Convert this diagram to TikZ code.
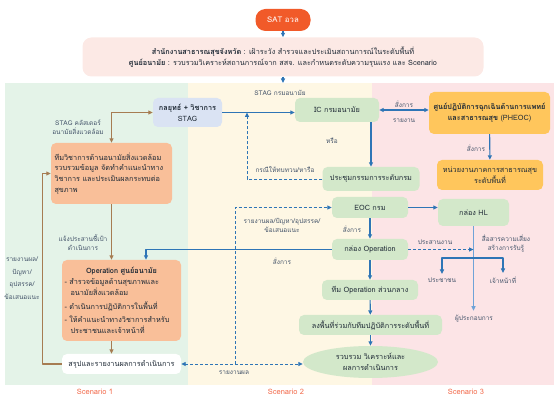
\documentclass[tikz,border=0pt]{standalone}
\usepackage{fontspec}
\setmainfont[Script=Thai]{Loma}
\usetikzlibrary{arrows.meta,shapes.geometric}

\definecolor{satred}{HTML}{F15A29}
\definecolor{toppink}{HTML}{FCE9E5}
\definecolor{colgreen}{HTML}{E4F3E8}
\definecolor{colyellow}{HTML}{FEF7E4}
\definecolor{colpink}{HTML}{FCE4E6}
\definecolor{boxgreen}{HTML}{D3E8CA}
\definecolor{stagblue}{HTML}{DAE3F3}
\definecolor{envorange}{HTML}{F9BF99}
\definecolor{pheocyel}{HTML}{FFC65C}
\definecolor{arrowblue}{HTML}{2E75B6}
\definecolor{hlblue}{HTML}{6FA3D8}
\definecolor{brownline}{HTML}{A67C52}
\definecolor{labeltxt}{HTML}{44546A}
\definecolor{txtdark}{HTML}{1F2A36}
\definecolor{scenred}{HTML}{F26A4B}

\begin{document}
\begin{tikzpicture}[x=1pt, y=-1pt, >={Triangle[length=4.5pt, width=4pt]}, line join=round,
	every node/.style={font=\fontsize{7.3}{10.8}\selectfont, text=txtdark},
	card/.style={rounded corners=5pt, inner sep=1pt, align=center},
	greencard/.style={card, fill=boxgreen},
	edgelabel/.style={font=\fontsize{6.5}{9}\selectfont, text=labeltxt, align=center, inner sep=0.5pt},
	scenlabel/.style={font=\fontsize{7.5}{9}\selectfont, text=scenred, inner sep=0.5pt},
	bluearrow/.style={->, draw=arrowblue, line width=1.1pt},
	bluedash/.style={draw=arrowblue, line width=0.9pt, dash pattern=on 3pt off 2pt},
	brownarrow/.style={->, draw=brownline, line width=1.1pt}]

	\useasboundingbox (0,0) rectangle (560,403);

	% ================= header =================
	\node[card, fill=satred, text=white, rounded corners=10pt, minimum width=55pt, minimum height=22pt, font=\fontsize{7.8}{10}\selectfont] (sat) at (283,20) {SAT อวล};
	\node[card, fill=toppink, rounded corners=9pt, minimum width=401pt, minimum height=39pt] (prov) at (283,57)
	{{\bfseries สำนักงานสาธารณสุขจังหวัด} : เฝ้าระวัง สำรวจและประเมินสถานการณ์ในระดับพื้นที่\\[1pt]
		{\bfseries ศูนย์อนามัย} : รวบรวมวิเคราะห์สถานการณ์จาก สสจ. และกำหนดระดับความรุนแรง และ Scenario};
	\coordinate (colstop) at (283,83);
	\draw[bluearrow] (sat) -- (prov);
	\draw[bluearrow] (prov.south) -- (colstop);

	% ================= three scenario columns =================
	\fill[colgreen] (5,83) rectangle (188,385);
	\fill[colyellow] (188,83) rectangle (372,385);
	\fill[colpink] (372,83) rectangle (554,385);
	\node[scenlabel] (scen1) at (95,392) {Scenario 1};
	\node[scenlabel] (scen2) at (286,392) {Scenario 2};
	\node[scenlabel] (scen3) at (466,392) {Scenario 3};

	% ================= scenario 1 =================
	\node[edgelabel] (stagcl) at (78,127) {STAG คลัสเตอร์\\อนามัยสิ่งแวดล้อม};
	\node[card, fill=stagblue, minimum width=69pt, minimum height=29pt] (stag) at (187.5,112.5) {{\bfseries กลยุทธ์ + วิชาการ}\\STAG};
	\node[card, fill=envorange, minimum width=121pt, minimum height=61pt, text width=114pt, align=left] (envteam) at (111.5,173.5)
	{ทีมวิชาการด้านอนามัยสิ่งแวดล้อม\\รวบรวมข้อมูล จัดทำคำแนะนำทาง\\วิชาการ และประเมินผลกระทบต่อ\\สุขภาพ};
	\node[edgelabel] (notify) at (83,243) {แจ้งประสานชี้เป้า\\ดำเนินการ};
	\node[card, fill=envorange, minimum width=119pt, minimum height=81pt, text width=114pt, align=left] (ophc) at (121.5,300.5)
	{{\centering\bfseries Operation ศูนย์อนามัย\par}
		- สำรวจข้อมูลด้านสุขภาพและ\\
		\hspace*{6pt}อนามัยสิ่งแวดล้อม\\[3pt]
		- ดำเนินการปฏิบัติการในพื้นที่\\[3pt]
		- ให้คำแนะนำทางวิชาการสำหรับ\\
		\hspace*{6pt}ประชาชนและเจ้าหน้าที่};
	\node[card, fill=white, minimum width=119pt, minimum height=20pt] (summ) at (121.5,364) {สรุปและรายงานผลการดำเนินการ};
	\node[edgelabel, font=\fontsize{6.5}{12.5}\selectfont] (fbtext) at (22,278) {รายงานผล/\\ปัญหา/\\อุปสรรค/\\ข้อเสนอแนะ};

	\draw[brownarrow, <->] (envteam.north) |- (stag.west);
	\draw[brownarrow] (envteam.south) -- (envteam.south |- ophc.north);
	\draw[brownarrow] (ophc.south -| envteam.south) -- (summ.north -| envteam.south);
	\draw[brownarrow] (summ.west) -- ++(-19,0) |- (envteam.west);

	% ================= scenario 2 =================
	\node[edgelabel] (stagdoh) at (280,93) {STAG กรมอนามัย};
	\node[greencard, minimum width=84pt, minimum height=24pt] (ic) at (337,110) {IC กรมอนามัย};
	\node[greencard, minimum width=97pt, minimum height=24pt] (meet) at (371,179) {ประชุมกรรมการระดับกรม};
	\node[edgelabel] (orlbl) at (332,141) {หรือ};
	\node[edgelabel] (revlbl) at (285,170) {กรณีให้ทบทวน/หารือ};
	\node[greencard, minimum width=76pt, minimum height=21pt] (eoc) at (370,207.5) {EOC กรม};
	\node[greencard, minimum width=76pt, minimum height=21pt] (opbox) at (370,249.5) {กล่อง Operation};
	\node[greencard, minimum width=96pt, minimum height=20pt] (cteam) at (370,290) {ทีม Operation ส่วนกลาง};
	\node[greencard, minimum width=143pt, minimum height=20pt] (field) at (370.5,325) {ลงพื้นที่ร่วมกับทีมปฏิบัติการระดับพื้นที่};
	\node[ellipse, fill=boxgreen, inner sep=0pt, minimum width=135pt, minimum height=32pt, align=center] (collect) at (370.5,362)
	{รวบรวม วิเคราะห์และ\\ผลการดำเนินการ};
	\node[edgelabel] (replbl) at (282,225) {รายงานผล/ปัญหา/อุปสรรค/\\ข้อเสนอแนะ};
	\node[edgelabel] (cmd1) at (352,229) {สั่งการ};
	\node[edgelabel] (cmd2) at (282,261) {สั่งการ};
	\node[edgelabel] (replbl2) at (234,373) {รายงานผล};
	\coordinate (revtip) at (247,112.5);
	\coordinate (repjoin) at (235,364);

	\draw[bluearrow] (stag.east) -- (stag.east -| ic.west);
	\draw[bluedash, ->] (meet.west) -| (revtip);
	\draw[bluearrow] (meet.north |- ic.south) -- (meet.north);
	\draw[bluearrow] (eoc) -- (opbox);
	\draw[bluearrow] (opbox) -- (cteam);
	\draw[bluearrow] (cteam) -- (field);
	\draw[bluearrow] (field) -- (collect);
	\draw[bluearrow] (opbox.west) -| ([xshift=24.5pt]ophc.north);
	\draw[bluedash, <->] (summ.east) -- (summ.east -| collect.west);
	\draw[bluedash, ->] (repjoin) |- (eoc.west);

	% ================= scenario 3 =================
	\node[card, fill=pheocyel, minimum width=121pt, minimum height=42pt] (pheoc) at (489.5,113)
	{{\bfseries ศูนย์ปฏิบัติการฉุกเฉินด้านการแพทย์}\\{\bfseries และสาธารณสุข} (PHEOC)};
	\node[card, fill=pheocyel, minimum width=106pt, minimum height=30pt] (local) at (490,175) {หน่วยงานภาคการสาธารณสุข\\ระดับพื้นที่};
	\node[greencard, minimum width=71pt, minimum height=27pt] (hl) at (473.5,212.5) {กล่อง HL};
	\node[edgelabel] (cmd3) at (404,104) {สั่งการ};
	\node[edgelabel] (rpt3) at (404,121) {รายงาน};
	\node[edgelabel] (cmd4) at (476,148) {สั่งการ};
	\node[edgelabel] (coord) at (435,242) {ประสานงาน};
	\node[edgelabel] (risk) at (506,244) {สื่อสารความเสี่ยง\\สร้างการรับรู้};
	\node[edgelabel] (pub) at (442,280) {ประชาชน};
	\node[edgelabel] (staff) at (503,280) {เจ้าหน้าที่};
	\node[edgelabel] (biz) at (474,319) {ผู้ประกอบการ};
	\coordinate (hlsplit) at (474,258);

	\draw[bluearrow, <->] (ic.east) -- (ic.east -| pheoc.west);
	\draw[bluearrow] (pheoc) -- (local);
	\draw[bluearrow] (eoc.east) -- (eoc.east -| hl.west);
	\draw[->, draw=hlblue, line width=1pt, shorten >=4pt] (hl.south) -- (hl.south |- biz.north);
	\draw[bluearrow, shorten >=3pt] (hlsplit) -| (pub.north);
	\draw[bluearrow, shorten >=3pt] (hlsplit) -| (staff.north);
	\draw[bluedash, ->] (opbox.east) -- (opbox.east -| hl.south);

\end{tikzpicture}
\end{document}
